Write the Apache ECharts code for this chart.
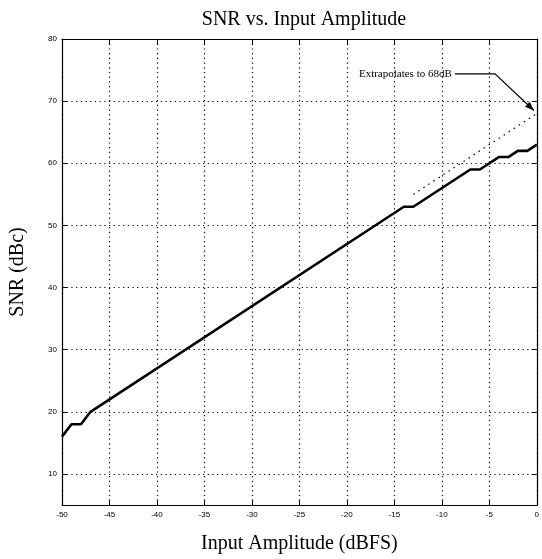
<!DOCTYPE html>
<html><head><meta charset="utf-8">
<script src="https://cdn.jsdelivr.net/npm/echarts@6/dist/echarts.min.js"></script>
<style>html,body{margin:0;padding:0;background:#fff}#c{width:542px;height:559px}</style>
</head><body><div id="c"></div>
<script>
const inputAmp = [-50,-49,-48,-47,-14,-13,-7,-6,-4,-3,-2,-1,0];
const snr      = [16, 18, 18, 20, 53, 53, 59, 59, 61, 61, 62, 62, 63];
const extrapX  = [-13, 0];
const extrapY  = [55, 68];
const xTicks = [-50,-45,-40,-35,-30,-25,-20,-15,-10,-5,0];
const yTicks = [10,20,30,40,50,60,70,80];
const annText = 'Extrapolates to 68dB';
const annPath = [[-8.95,74.4],[-4.4,74.4],[-0.3,68.5]];

const chart = echarts.init(document.getElementById('c'));
const serif = '"Liberation Serif","DejaVu Serif",serif';
const sans = '"Liberation Sans",Arial,sans-serif';
const dotted = {show:true, lineStyle:{color:'#000', type:[1.2,3.5], width:1.2}};
const baseX = {type:'value', min:-50, max:0, interval:5,
  axisLine:{show:true,onZero:false,lineStyle:{color:'#000',width:1.2}},
  axisTick:{show:true,inside:true,length:5,lineStyle:{color:'#000'}}};
const baseY = {type:'value', min:5, max:80,
  axisLine:{show:true,onZero:false,lineStyle:{color:'#000',width:1.2}},
  axisTick:{show:true,inside:true,length:5,customValues:yTicks,lineStyle:{color:'#000'}}};
chart.setOption({
  animation:false,
  backgroundColor:'#fff',
  title:{text:'SNR vs. Input Amplitude', left:299, top:5, textAlign:'center',
    textStyle:{fontFamily:serif,fontSize:20,fontWeight:'normal',color:'#000'}},
  grid:{left:62,right:5,top:39,bottom:54},
  xAxis:[
    Object.assign({}, baseX, {position:'bottom',
      name:'Input Amplitude (dBFS)', nameLocation:'middle', nameGap:29,
      nameTextStyle:{fontFamily:serif,fontSize:20,color:'#000'},
      axisLabel:{fontFamily:sans,fontSize:8,color:'#000',margin:6,customValues:xTicks},
      splitLine:dotted}),
    Object.assign({}, baseX, {position:'top', axisLabel:{show:false}, splitLine:{show:false}})
  ],
  yAxis:[
    Object.assign({}, baseY, {position:'left',
      name:'SNR (dBc)', nameLocation:'middle', nameGap:34,
      nameTextStyle:{fontFamily:serif,fontSize:20,color:'#000'},
      axisLabel:{fontFamily:sans,fontSize:8,color:'#000',margin:5,customValues:yTicks},
      splitLine:{show:false}}),
    Object.assign({}, baseY, {position:'right', axisLabel:{show:false}, splitLine:{show:false}})
  ],
  series:[
    {type:'line', data:inputAmp.map((x,i)=>[x,snr[i]]), showSymbol:false, symbol:'none',
     lineStyle:{color:'#000',width:2.6}, z:5,
     markLine:{silent:true, symbol:'none', label:{show:false},
       lineStyle:{color:'#000',type:[1.2,3.5],width:1.2},
       data:yTicks.filter(v=>v<80).map(v=>({yAxis:v}))}},
    {type:'line', data:extrapX.map((x,i)=>[x,extrapY[i]]), showSymbol:false, symbol:'none',
     lineStyle:{color:'#000',width:1.2,type:[1.5,4.5]}, z:4}
  ]
});
const pts = annPath.map(p=>chart.convertToPixel({xAxisIndex:0,yAxisIndex:0},p));
chart.setOption({graphic:[
  {type:'text', x:pts[0][0], y:pts[0][1], style:{text:annText, fontFamily:serif, fontSize:11, fill:'#000', align:'right', verticalAlign:'middle'}},
  {type:'polyline', shape:{points:[[pts[0][0]+3,pts[0][1]],pts[1],pts[2]]}, style:{stroke:'#000',lineWidth:1.2,fill:null}},
  (function(){
    const a=pts[1], b=pts[2];
    const ang=Math.atan2(b[1]-a[1], b[0]-a[0]);
    const L=9, W=3.5;
    const bx=b[0]-L*Math.cos(ang), by=b[1]-L*Math.sin(ang);
    return {type:'polygon', shape:{points:[b,[bx+W*Math.sin(ang),by-W*Math.cos(ang)],[bx-W*Math.sin(ang),by+W*Math.cos(ang)]]}, style:{fill:'#000'}};
  })()
]});
</script></body></html>
